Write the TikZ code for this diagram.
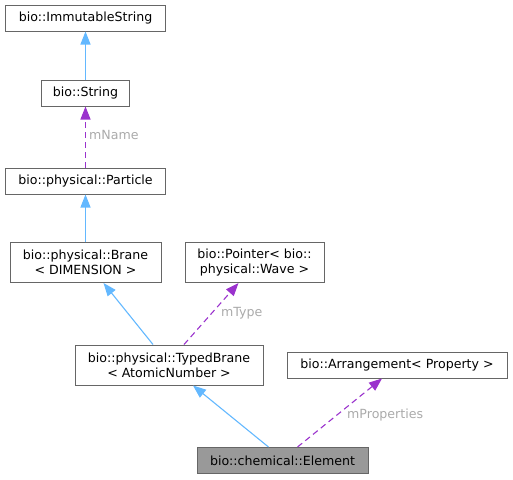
\documentclass[tikz,border=0pt]{standalone}
\usepackage{fontspec}
\setmainfont{DejaVu Sans}
\usetikzlibrary{arrows.meta,positioning}
\definecolor{boxline}{HTML}{666666}
\definecolor{inh}{HTML}{63B8FF}
\definecolor{use}{HTML}{9A32CD}
\definecolor{lbl}{HTML}{AAAAAA}
\definecolor{cur}{HTML}{999999}
\begin{document}
\begin{tikzpicture}[x=1pt,y=-1pt,
  cls/.style={draw=boxline,line width=1pt,fill=white,inner sep=0pt,align=center,
    font=\fontsize{12.6}{15}\selectfont},
  inherit/.style={draw=inh,line width=1.1pt,-{Triangle[length=13pt,width=10pt]}},
  usage/.style={draw=use,line width=1.1pt,dash pattern=on 6pt off 4pt,-{Triangle[length=13pt,width=10pt]}},
  elbl/.style={text=lbl,font=\fontsize{12.6}{15}\selectfont,inner sep=1pt}]
\useasboundingbox (0,0) rectangle (513,479);
\node[cls,minimum width=160,minimum height=26] (imm) at (85.5,18) {bio::ImmutableString};
\node[cls,minimum width=88,minimum height=26] (str) at (85.5,93) {bio::String};
\node[cls,minimum width=160,minimum height=26] (par) at (85.5,181) {bio::physical::Particle};
\node[cls,minimum width=151,minimum height=40] (bra) at (85.5,262.5) {bio::physical::Brane\\< DIMENSION >};
\node[cls,minimum width=139,minimum height=40] (ptr) at (254.5,262.5) {bio::Pointer< bio::\\physical::Wave >};
\node[cls,minimum width=188,minimum height=40] (tb) at (169,365) {bio::physical::TypedBrane\\< AtomicNumber >};
\node[cls,minimum width=220,minimum height=26] (arr) at (397,365) {bio::Arrangement< Property >};
\node[cls,fill=cur,minimum width=171,minimum height=26] (el) at (282.5,460.5) {bio::chemical::Element};

\draw[inherit] (str.north) -- (imm.south);
\draw[usage] (par.north) -- (str.south);
\node[elbl,anchor=west] (ln) at (88,135) {mName};
\draw[inherit] (bra.north) -- (par.south);
\draw[inherit] ([xshift=-16]tb.north) -- ([xshift=18]bra.south);
\draw[usage] ([xshift=15]tb.north) -- ([xshift=-16]ptr.south);
\node[elbl,anchor=west] (lt) at (220,313) {mType};
\draw[inherit] ([xshift=-14]el.north) -- ([xshift=24]tb.south);
\draw[usage] ([xshift=15]el.north) -- ([xshift=-15]arr.south);
\node[elbl,anchor=west] (lp) at (346,415) {mProperties};
\end{tikzpicture}
\end{document}
